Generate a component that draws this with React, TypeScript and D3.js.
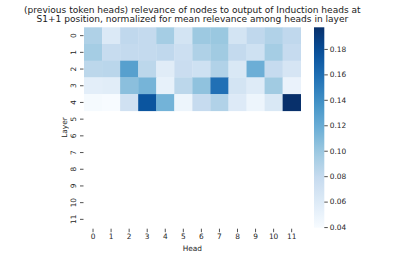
import React, { useEffect, useRef } from 'react'
import * as d3 from 'd3'

const titleLines = [
  '(previous token heads) relevance of nodes to output of Induction heads at',
  'S1+1 position, normalized for mean relevance among heads in layer',
]
const heads = d3.range(12)
const layers = d3.range(12)
// rows 0..4 have values, layers 5..11 are empty (NaN)
const layer0 = [0.090, 0.062, 0.082, 0.080, 0.095, 0.068, 0.099, 0.100, 0.068, 0.082, 0.089, 0.082]
const layer1 = [0.095, 0.078, 0.080, 0.080, 0.082, 0.074, 0.090, 0.097, 0.080, 0.072, 0.095, 0.079]
const layer2 = [0.084, 0.085, 0.128, 0.084, 0.058, 0.076, 0.072, 0.089, 0.063, 0.118, 0.079, 0.066]
const layer3 = [0.055, 0.057, 0.106, 0.114, 0.052, 0.084, 0.104, 0.158, 0.068, 0.059, 0.097, 0.050]
const layer4 = [0.041, 0.0395, 0.071, 0.175, 0.115, 0.047, 0.079, 0.089, 0.060, 0.047, 0.063, 0.197]
const rows = [layer0, layer1, layer2, layer3, layer4]
const cbTicks = [0.04, 0.06, 0.08, 0.10, 0.12, 0.14, 0.16, 0.18]

const bluesStops = ['#f7fbff', '#deebf7', '#c6dbef', '#9ecae1', '#6baed6', '#4292c6', '#2171b5', '#08519c', '#08306b']

const App = () => {
  const svgRef = useRef<SVGSVGElement>(null)

  useEffect(() => {
    const svg = d3.select(svgRef.current)
    svg.selectAll('*').remove()
    const font = 'DejaVu Sans'
    const tickSize = 7.4
    const left = 84, right = 300.7, top = 27.3, bottom = 227.7

    const x = d3.scaleBand<number>().domain(heads).range([left, right])
    const y = d3.scaleBand<number>().domain(layers).range([top, bottom])

    const all = rows.flat()
    const ext = d3.extent(all) as [number, number]
    const blues = d3.piecewise(d3.interpolateRgb, bluesStops)
    const color = d3.scaleSequential(blues).domain(ext)

    // title
    svg.append('g')
      .selectAll('text')
      .data(titleLines)
      .join('text')
      .attr('x', (left + right) / 2)
      .attr('y', (d, i) => 12.5 + i * 9.9)
      .attr('text-anchor', 'middle')
      .attr('font-family', font)
      .attr('font-size', 9.05)
      .attr('fill', '#1a1a1a')
      .text(d => d)

    // cells
    const cells = rows.flatMap((r, li) => r.map((v, hi) => ({ li, hi, v })))
    svg.append('g')
      .selectAll('rect')
      .data(cells)
      .join('rect')
      .attr('x', d => x(d.hi)!)
      .attr('y', d => y(d.li)!)
      .attr('width', x.bandwidth() + 0.3)
      .attr('height', y.bandwidth() + 0.3)
      .attr('fill', d => color(d.v))

    // x axis
    const xAxis = svg.append('g')
      .attr('transform', `translate(0,${bottom + 1})`)
      .call(d3.axisBottom(x).tickSize(3.5).tickPadding(2))
    xAxis.select('.domain').remove()
    xAxis.selectAll('line').attr('stroke', '#262626').attr('stroke-width', 0.8)
    xAxis.selectAll('text').attr('font-family', font).attr('font-size', tickSize).attr('fill', '#262626')

    // y axis
    const yAxis = svg.append('g')
      .attr('transform', `translate(${left - 0.5},0)`)
      .call(d3.axisLeft(y).tickSize(3.5).tickPadding(2))
    yAxis.select('.domain').remove()
    yAxis.selectAll('line').attr('stroke', '#262626').attr('stroke-width', 0.8)
    yAxis.selectAll('text')
      .attr('font-family', font)
      .attr('font-size', tickSize)
      .attr('fill', '#262626')
      .attr('text-anchor', 'middle')
      .attr('dy', null)
      .attr('x', null)
      .attr('transform', 'translate(-10,0) rotate(-90)')
      .attr('dominant-baseline', 'central')

    svg.append('text')
      .attr('x', (left + right) / 2)
      .attr('y', 250.5)
      .attr('text-anchor', 'middle')
      .attr('font-family', font)
      .attr('font-size', tickSize)
      .attr('fill', '#262626')
      .text('Head')

    svg.append('text')
      .attr('transform', `translate(66.5,${(top + bottom) / 2}) rotate(-90)`)
      .attr('text-anchor', 'middle')
      .attr('font-family', font)
      .attr('font-size', tickSize)
      .attr('fill', '#262626')
      .text('Layer')

    // colorbar
    const cbX = 314, cbW = 10.3
    const cbY = d3.scaleLinear().domain(ext).range([bottom, top])
    const grad = svg.append('defs').append('linearGradient')
      .attr('id', 'cb').attr('x1', 0).attr('x2', 0).attr('y1', 1).attr('y2', 0)
    d3.range(0, 1.0001, 0.05).forEach(t => {
      grad.append('stop').attr('offset', t).attr('stop-color', blues(t))
    })
    svg.append('rect')
      .attr('x', cbX).attr('y', top)
      .attr('width', cbW).attr('height', bottom - top)
      .attr('fill', 'url(#cb)')
    const cbAxis = svg.append('g')
      .attr('transform', `translate(${cbX + cbW},0)`)
      .call(d3.axisRight(cbY).tickValues(cbTicks).tickFormat(d3.format('.2f')).tickSize(3.5).tickPadding(2))
    cbAxis.select('.domain').remove()
    cbAxis.selectAll('line').attr('stroke', '#262626').attr('stroke-width', 0.8)
    cbAxis.selectAll('text').attr('font-family', font).attr('font-size', tickSize).attr('fill', '#262626')
  }, [])

  return (
    <svg ref={svgRef} width={409} height={260}
      style={{ position: 'absolute', left: 0, top: 0, background: '#fff' }} />
  )
}

export default App
